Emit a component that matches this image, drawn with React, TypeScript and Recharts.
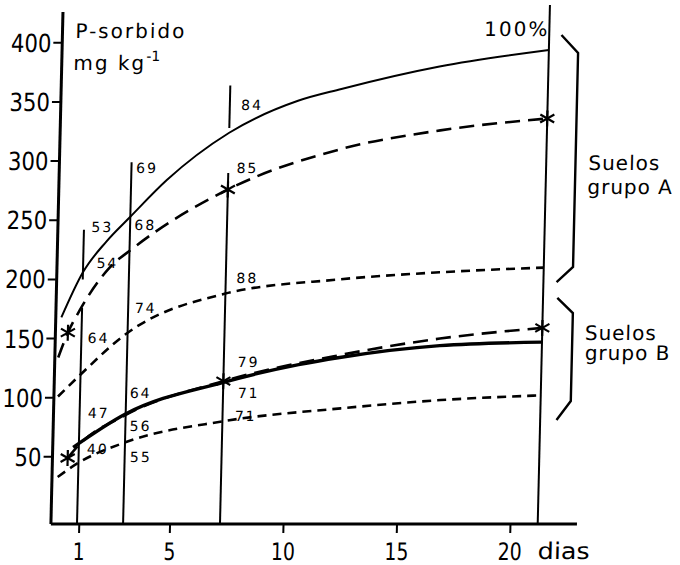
import { ComposedChart, Line, Scatter, XAxis, YAxis, ReferenceLine } from "recharts";

const FONT = "DejaVu Sans";
const INK = "#000";

const dayTicks = [1, 5, 10, 15, 20];
const pTicks = [50, 100, 150, 200, 250, 300, 350, 400];
const dayDomain = [-0.29, 27.47];
const pDomain = [-6.76, 436.2];

// Suelos grupo A
const aSolid = [
  { d: 0.0, v: 168 }, { d: 0.9, v: 206 }, { d: 1.9, v: 232 }, { d: 2.93, v: 253 },
  { d: 4.5, v: 284 }, { d: 7.2, v: 324 }, { d: 10.2, v: 351 }, { d: 12.1, v: 361 },
  { d: 16.4, v: 380 }, { d: 21.2, v: 394 },
];
const aDashed = [
  { d: -0.1, v: 134 }, { d: 0.3, v: 155 }, { d: 0.8, v: 174 }, { d: 2.07, v: 210 },
  { d: 3.06, v: 226 }, { d: 7.2, v: 276 }, { d: 12.1, v: 310 }, { d: 16.5, v: 326 }, { d: 21.2, v: 336 },
];
const aShort = [
  { d: -0.07, v: 101 }, { d: 0.87, v: 119 }, { d: 2.8, v: 153 }, { d: 7.2, v: 188 },
  { d: 12.2, v: 200 }, { d: 16.6, v: 206 }, { d: 21.2, v: 210 },
];
const aStars = [{ d: 0.3, v: 155 }, { d: 7.2, v: 276 }, { d: 21.2, v: 336 }];

// Suelos grupo B
const bSolid = [
  { d: 0.65, v: 58 }, { d: 2.9, v: 86 }, { d: 7.2, v: 113 }, { d: 10.5, v: 128 },
  { d: 12.3, v: 134 }, { d: 16.7, v: 144 }, { d: 21.2, v: 147 },
];
const bDashed = [
  { d: 0.42, v: 49 }, { d: 0.9, v: 60 }, { d: 2.9, v: 85 }, { d: 7.2, v: 114 },
  { d: 12.3, v: 136 }, { d: 16.7, v: 150 }, { d: 21.2, v: 159 },
];
const bShort = [
  { d: 0.0, v: 33 }, { d: 0.9, v: 45 }, { d: 2.9, v: 62 }, { d: 7.2, v: 80 },
  { d: 12.4, v: 91 }, { d: 16.8, v: 98 }, { d: 21.2, v: 102 },
];
const bStars = [{ d: 0.42, v: 49 }, { d: 7.2, v: 114 }, { d: 21.2, v: 159 }];

// sampling days (vertical lines), with the gaps of the original
const stems = [
  { d: 0.9, lo: -6.76, hi: 176 }, { d: 0.9, lo: 200, hi: 242 },
  { d: 2.93, lo: -6.76, hi: 299 },
  { d: 7.2, lo: -6.76, hi: 290 }, { d: 7.2, lo: 328, hi: 364 },
  { d: 21.2, lo: -6.76, hi: 432 },
];

const pctLabels = [
  { d: 1.23, v: 240, t: "53" }, { d: 1.49, v: 210, t: "54" }, { d: 1.18, v: 146, t: "64" },
  { d: 1.26, v: 83, t: "47" }, { d: 1.26, v: 52, t: "40" },
  { d: 3.14, v: 290, t: "69" }, { d: 3.12, v: 242, t: "68" }, { d: 3.22, v: 172, t: "74" },
  { d: 3.09, v: 100, t: "64" }, { d: 3.12, v: 72, t: "56" }, { d: 3.16, v: 46, t: "55" },
  { d: 7.7, v: 343, t: "84" }, { d: 7.56, v: 290, t: "85" }, { d: 7.67, v: 197, t: "88" },
  { d: 7.81, v: 126, t: "79" }, { d: 7.85, v: 100, t: "71" }, { d: 7.74, v: 80, t: "71" },
];
const headLabels = [
  { d: 0.32, v: 404, t: "P-sorbido" },
  { d: 0.26, v: 377, t: "mg kg", sup: "-1" },
  { d: 18.33, v: 406, t: "100%" },
];
const groupLabels = [
  { d: 23.06, v: 292.5, t: "Suelos" }, { d: 23.04, v: 272, t: "grupo A" },
  { d: 23.08, v: 149, t: "Suelos" }, { d: 23.1, v: 132, t: "grupo B" },
];
const braceA = [{ d: 21.74, v: 406.6 }, { d: 22.49, v: 391.4 }, { d: 22.49, v: 210.5 }, { d: 21.78, v: 197.8 }];
const braceB = [{ d: 21.83, v: 184.3 }, { d: 22.53, v: 171.6 }, { d: 22.53, v: 97.2 }, { d: 21.92, v: 81.2 }];

function Star(p: any) {
  const { cx, cy } = p;
  return (
    <g stroke={INK} strokeWidth={2.2}>
      <line x1={cx} y1={cy - 8} x2={cx} y2={cy + 8} />
      <line x1={cx - 7} y1={cy - 4} x2={cx + 7} y2={cy + 4} />
      <line x1={cx - 7} y1={cy + 4} x2={cx + 7} y2={cy - 4} />
    </g>
  );
}

function PctText(p: any) {
  return (
    <text x={p.cx} y={p.cy} fontFamily={FONT} fontSize={14} letterSpacing={2} fill={INK}>
      {p.payload.t}
    </text>
  );
}

function HeadText(p: any) {
  return (
    <text x={p.cx} y={p.cy} fontFamily={FONT} fontSize={20} letterSpacing={2} fill={INK}>
      {p.payload.t}
      {p.payload.sup ? <tspan dy={-9} fontSize={14} letterSpacing={0}>{p.payload.sup}</tspan> : null}
    </text>
  );
}

function GroupText(p: any) {
  return (
    <text x={p.cx} y={p.cy} fontFamily={FONT} fontSize={20} letterSpacing={1} fill={INK}>
      {p.payload.t}
    </text>
  );
}

// tall, narrow digits like the original lettering
function DayTick({ x, y, payload }: any) {
  const s = String(payload.value);
  return (
    <g>
      <text
        x={x}
        y={y}
        dy="0.71em"
        textAnchor="middle"
        fontFamily={FONT}
        fontSize={24}
        textLength={12 * s.length}
        lengthAdjust="spacingAndGlyphs"
        fill={INK}
      >
        {s}
      </text>
      {payload.value === 20 ? (
        <text
          x={x + 28}
          y={y}
          dy="0.71em"
          fontFamily={FONT}
          fontSize={23}
          textLength={52}
          lengthAdjust="spacingAndGlyphs"
          fill={INK}
        >
          dias
        </text>
      ) : null}
    </g>
  );
}

function PTick({ x, y, payload }: any) {
  const s = String(payload.value);
  return (
    <text
      x={x}
      y={y}
      dy="0.36em"
      textAnchor="end"
      fontFamily={FONT}
      fontSize={25}
      textLength={13.5 * s.length}
      lengthAdjust="spacingAndGlyphs"
      fill={INK}
    >
      {s}
    </text>
  );
}

const solid = { stroke: INK, dot: false, isAnimationActive: false, type: "monotone" as const, dataKey: "v" };

export default function App() {
  return (
    <>
      <style>{"body{margin:0;background:#fff}"}</style>
      <div style={{ width: 680, height: 565, transform: "skewX(-1.35deg)", transformOrigin: "0 524px" }}>
        <ComposedChart width={680} height={565} margin={{ top: 0, right: 0, bottom: 0, left: 0 }}>
          <XAxis
            type="number"
            dataKey="d"
            domain={dayDomain}
            allowDataOverflow
            ticks={dayTicks}
            height={41}
            axisLine={false}
            tickLine={{ stroke: INK, strokeWidth: 2 }}
            tickSize={9}
            tickMargin={10}
            tick={<DayTick />}
          />
          <YAxis
            type="number"
            dataKey="v"
            domain={pDomain}
            allowDataOverflow
            ticks={pTicks}
            width={50}
            axisLine={false}
            tickLine={{ stroke: INK, strokeWidth: 2 }}
            tickSize={8}
            tickMargin={2}
            tick={<PTick />}
          />

          {/* axis frame */}
          <ReferenceLine
            segment={[{ x: -0.25, y: -6.76 }, { x: -0.25, y: 426 }]}
            stroke={INK}
            strokeWidth={3}
            ifOverflow="visible"
          />
          <ReferenceLine
            segment={[{ x: -0.25, y: -6.76 }, { x: 22.93, y: -6.76 }]}
            stroke={INK}
            strokeWidth={3}
            ifOverflow="visible"
          />

          {stems.map((s, i) => (
            <ReferenceLine
              key={i}
              segment={[{ x: s.d, y: s.lo }, { x: s.d, y: s.hi }]}
              stroke={INK}
              strokeWidth={2}
              ifOverflow="visible"
            />
          ))}

          <Line data={aSolid} {...solid} strokeWidth={2} />
          <Line data={aDashed} {...solid} strokeWidth={2.6} strokeDasharray="15 8" />
          <Line data={aShort} {...solid} strokeWidth={2.6} strokeDasharray="9 6" />
          <Line data={bSolid} {...solid} strokeWidth={3.4} />
          <Line data={bDashed} {...solid} strokeWidth={2.6} strokeDasharray="15 8" />
          <Line data={bShort} {...solid} strokeWidth={2.6} strokeDasharray="9 6" />

          <Line data={braceA} dataKey="v" type="linear" stroke={INK} strokeWidth={2.4} dot={false} isAnimationActive={false} />
          <Line data={braceB} dataKey="v" type="linear" stroke={INK} strokeWidth={2.4} dot={false} isAnimationActive={false} />

          <Scatter data={aStars} dataKey="v" shape={<Star />} isAnimationActive={false} />
          <Scatter data={bStars} dataKey="v" shape={<Star />} isAnimationActive={false} />

          <Scatter data={pctLabels} dataKey="v" shape={<PctText />} isAnimationActive={false} />
          <Scatter data={headLabels} dataKey="v" shape={<HeadText />} isAnimationActive={false} />
          <Scatter data={groupLabels} dataKey="v" shape={<GroupText />} isAnimationActive={false} />
        </ComposedChart>
      </div>
    </>
  );
}
